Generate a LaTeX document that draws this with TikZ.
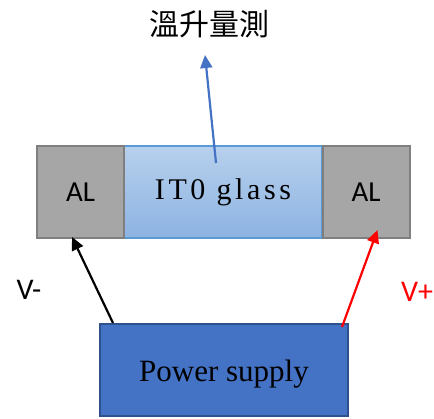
\documentclass[tikz,border=0pt]{standalone}
\usepackage{fontspec}
\setmainfont{Liberation Serif}
\setsansfont{Carlito}
\newfontfamily\cjk{Noto Sans CJK TC}
\newfontfamily\itofont[LetterSpace=12]{Liberation Serif}
\usetikzlibrary{arrows.meta, positioning}
\definecolor{calfill}{HTML}{A6A6A6}
\definecolor{caldraw}{HTML}{7F7F7F}
\definecolor{citotop}{HTML}{B7D0EC}
\definecolor{citobot}{HTML}{8DB3E2}
\definecolor{citodraw}{HTML}{5B9BD5}
\definecolor{cpsfill}{HTML}{4472C4}
\definecolor{cpsdraw}{HTML}{2F528F}
\definecolor{cred}{HTML}{FF0000}
\tikzset{
  every picture/.style={x=1pt, y=-1pt, line width=2pt},
  albox/.style={draw=caldraw, fill=calfill, minimum width=87pt, minimum height=92pt, inner sep=0pt, font=\sffamily\fontsize{29}{31}\selectfont},
  itobox/.style={draw=citodraw, top color=citotop, bottom color=citobot, minimum width=198pt, minimum height=92pt, inner sep=0pt, font=\itofont\fontsize{30}{32}\selectfont},
  psbox/.style={draw=cpsdraw, fill=cpsfill, minimum width=248pt, minimum height=92pt, inner sep=0pt, font=\fontsize{31}{34}\selectfont},
  arrow/.style={-{Triangle[length=13pt, width=12pt]}, line width=2.2pt, draw=#1},
  arrow/.default=black,
  vlabel/.style={font=\sffamily\fontsize{30}{32}\selectfont, text=#1},
}

\begin{document}
\begin{tikzpicture}
  \useasboundingbox (0,0) rectangle (434,419);
  \node[itobox] (ito) at (223,192) {IT0 glass};
  \node[albox] (alL) at (80.5,192) {AL};
  \node[albox] (alR) at (366,192) {AL};
  \node[psbox] (ps) at (224,370) {};
  \node[font=\fontsize{31}{34}\selectfont] (pstext) at (224,374) {Power supply};
  \node[font=\cjk\fontsize{30}{32}\selectfont] (title) at (209,24) {溫升量測};
  \node[vlabel=black] (vminus) at (29,290) {V-};
  \node[vlabel=cred] (vplus) at (417,292) {V+};
  % connectors
  \coordinate (itosrc) at (216,163);
  \coordinate (itotip) at (205,55);
  \draw[arrow=cpsfill] (itosrc) -- (itotip);
  \draw[arrow=black] ([xshift=14pt]ps.north west) -- ([xshift=36pt, yshift=2pt]alL.south west);
  \draw[arrow=cred] ([xshift=-7pt, yshift=-4pt]ps.north east) -- ([xshift=56pt, yshift=9pt]alR.south west);
\end{tikzpicture}
\end{document}
